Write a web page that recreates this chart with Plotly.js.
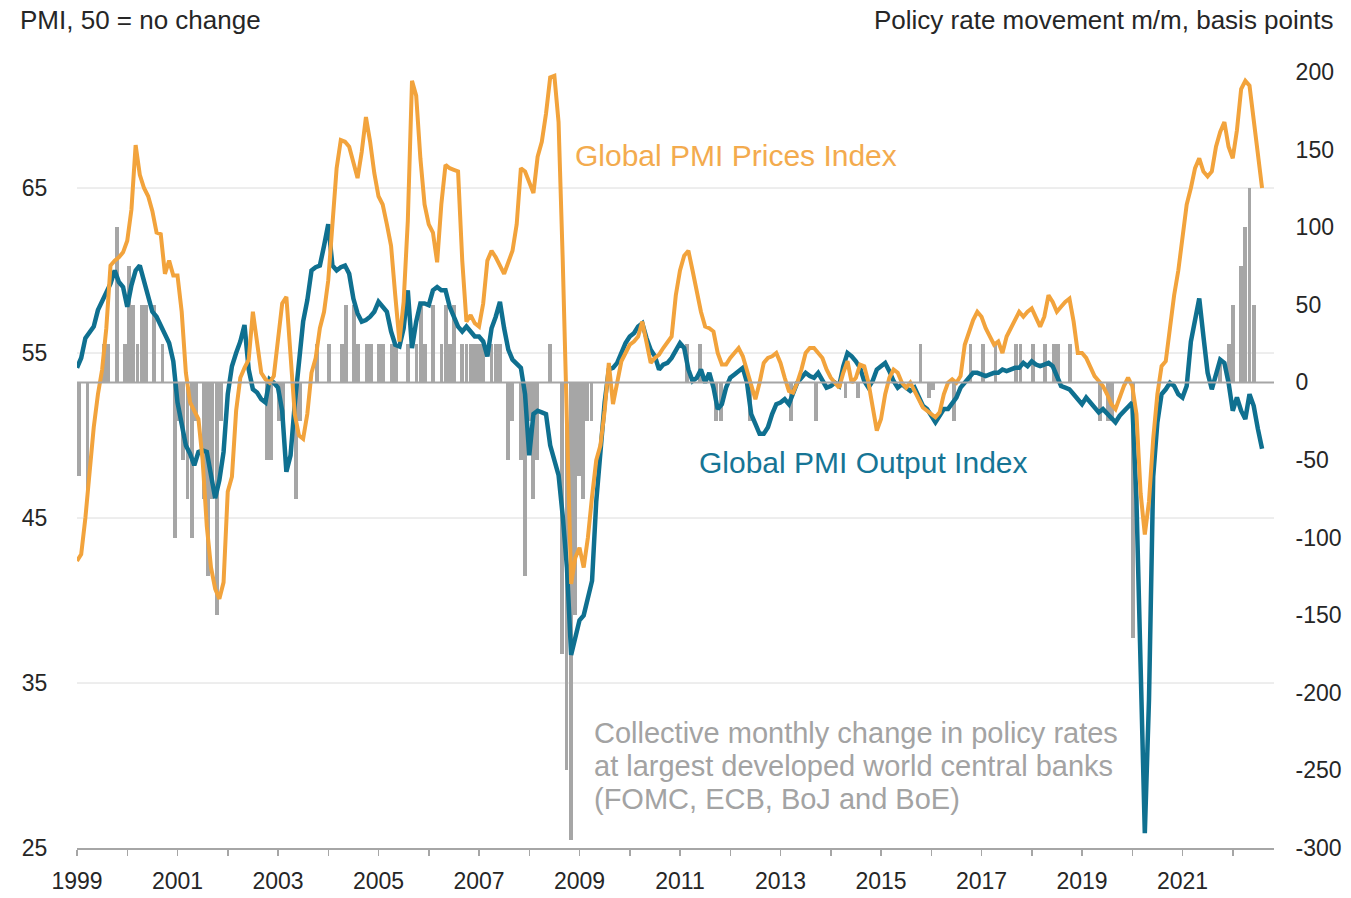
<!DOCTYPE html>
<html>
<head>
<meta charset="utf-8">
<script src="https://cdn.plot.ly/plotly-3.0.1.min.js"></script>
<style>
html,body{margin:0;padding:0;background:#fff;}
#chart{width:1351px;height:898px;}
</style>
</head>
<body>
<div id="chart"></div>
<script>
// Monthly series, starting January 1999
const startYear = 1999;

// Global PMI Prices Index (left axis)
const pricesIndex = [
  42.4, 42.8, 45.0, 48.0, 50.5, 52.5, 54.0, 56.5, 60.3, 60.6, 60.8, 61.1,   // 1999
  61.8, 63.7, 67.6, 65.8, 65.0, 64.5, 63.6, 62.3, 62.2, 59.8, 60.6, 59.7,   // 2000
  59.7, 57.5, 53.8, 52.0, 51.5, 51.0, 48.5, 44.5, 42.0, 40.7, 40.1, 41.1,   // 2001
  46.6, 47.5, 51.5, 53.5, 54.1, 54.6, 57.5, 55.5, 53.8, 53.4, 53.2, 53.6,   // 2002
  56.0, 58.0, 58.4, 54.4, 51.3, 50.0, 49.8, 51.3, 53.8, 54.7, 56.5, 57.5,   // 2003
  59.4, 62.8, 66.2, 67.9, 67.8, 67.5, 66.5, 65.6, 67.2, 69.3, 67.8, 65.9,   // 2004
  64.5, 64.0, 62.8, 61.5, 58.5, 55.7, 58.1, 63.0, 71.5, 70.6, 66.8, 64.0,   // 2005
  62.8, 62.3, 60.5, 64.0, 66.4, 66.2, 66.1, 66.0, 60.6, 56.9, 57.3, 56.8,   // 2006
  56.6, 58.0, 60.6, 61.2, 60.8, 60.3, 59.8, 60.5, 61.2, 62.8, 66.2, 66.0,   // 2007
  65.3, 64.7, 66.9, 67.8, 69.5, 71.7, 71.8, 69.0, 60.6, 51.3, 41.0, 42.6,   // 2008
  43.2, 42.0, 43.8, 46.3, 48.5, 49.4, 51.5, 54.4, 51.9, 53.2, 54.5, 55.0,   // 2009
  55.5, 55.7, 56.0, 56.9, 55.7, 54.4, 54.7, 54.9, 55.3, 55.7, 56.0, 58.5,   // 2010
  60.0, 60.9, 61.2, 60.0, 58.8, 57.5, 56.6, 56.5, 56.3, 55.0, 54.3, 54.3,   // 2011
  54.7, 55.0, 55.3, 54.8, 54.0, 53.0, 52.2, 53.2, 54.4, 54.7, 54.8, 55.0,   // 2012
  54.4, 53.5, 52.7, 52.6, 53.2, 54.0, 55.0, 55.3, 55.3, 55.0, 54.7, 54.0,   // 2013
  53.5, 53.2, 52.9, 53.8, 54.5, 53.2, 53.5, 54.3, 54.2, 53.2, 51.8, 50.3,   // 2014
  51.0, 52.5, 53.5, 54.0, 53.8, 53.2, 52.9, 53.2, 52.7, 52.2, 51.7, 51.5,   // 2015
  51.3, 51.1, 51.4, 52.5, 53.2, 53.4, 53.2, 53.6, 55.5, 56.3, 57.0, 57.5,   // 2016
  57.2, 56.5, 56.0, 55.5, 55.7, 55.0, 56.0, 56.5, 56.9, 57.5, 57.2, 57.5,   // 2017
  57.7, 57.2, 56.6, 57.2, 58.5, 58.1, 57.5, 57.8, 58.1, 58.3, 56.9, 55.0,   // 2018
  55.0, 54.7, 54.1, 53.6, 53.3, 53.0, 52.5, 51.9, 51.6, 52.3, 53.0, 53.5,   // 2019
  53.0, 51.3, 46.5, 44.0, 46.0, 49.8, 52.5, 54.2, 54.5, 56.5, 58.5, 60.0,   // 2020
  61.8, 64.0, 65.0, 66.2, 66.8, 66.0, 65.7, 66.0, 67.5, 68.4, 69.0, 67.5,   // 2021
  66.8, 68.5, 71.0, 71.5, 71.2, 69.0, 67.3, 65.0                            // 2022
];

// Global PMI Output Index (left axis)
const outputIndex = [
  54.1, 54.7, 55.9, 56.2, 56.6, 57.6, 58.1, 58.6, 59.2, 60.0, 59.3, 59.0,   // 1999
  57.8, 59.1, 60.0, 60.3, 59.4, 58.5, 57.5, 57.2, 56.7, 56.2, 55.6, 54.5,   // 2000
  52.0, 50.7, 49.4, 48.9, 48.2, 49.0, 49.1, 49.0, 47.5, 46.2, 47.3, 49.0,   // 2001
  52.5, 54.2, 55.0, 55.7, 56.7, 54.0, 52.8, 52.6, 52.2, 52.0, 53.4, 53.2,   // 2002
  52.9, 51.5, 47.8, 48.8, 51.9, 54.4, 56.9, 58.2, 60.0, 60.2, 60.3, 61.5,   // 2003
  62.8, 60.3, 60.0, 60.2, 60.3, 59.8, 58.3, 57.4, 56.9, 57.0, 57.2, 57.5,   // 2004
  58.1, 57.8, 57.5, 56.3, 55.5, 55.4, 56.5, 58.8, 55.3, 56.9, 58.0, 58.0,   // 2005
  57.9, 58.8, 59.0, 58.8, 58.8, 57.8, 57.2, 56.6, 56.3, 56.6, 56.3, 56.0,   // 2006
  56.0, 55.7, 54.8, 56.5, 57.2, 58.1, 56.5, 55.2, 54.6, 54.3, 54.1, 52.5,   // 2007
  48.8, 51.3, 51.5, 51.4, 51.3, 49.4, 48.5, 47.6, 45.1, 42.0, 36.7, 37.8,   // 2008
  38.8, 39.1, 40.1, 41.2, 46.0, 49.4, 52.0, 54.0, 54.1, 54.4, 55.0, 55.6,   // 2009
  56.0, 56.2, 56.6, 56.8, 55.9, 55.2, 54.8, 54.0, 54.3, 54.4, 54.7, 55.2,   // 2010
  55.6, 55.3, 54.0, 53.3, 53.5, 54.0, 53.2, 53.8, 52.9, 51.6, 51.9, 52.9,   // 2011
  53.5, 53.7, 53.9, 54.1, 53.2, 51.3, 50.7, 50.1, 50.1, 50.5, 51.3, 51.9,   // 2012
  52.0, 52.2, 51.9, 52.6, 53.2, 53.5, 53.8, 53.6, 53.5, 53.8, 53.3, 52.9,   // 2013
  53.0, 53.2, 53.0, 54.2, 55.0, 54.8, 54.5, 54.1, 53.3, 52.9, 53.3, 54.0,   // 2014
  54.2, 54.4, 53.9, 53.3, 52.9, 53.1, 52.9, 52.7, 52.9, 52.3, 51.8, 51.6,   // 2015
  51.2, 50.8, 51.2, 51.6, 51.6, 51.9, 52.3, 52.9, 53.2, 53.5, 53.8, 53.8,   // 2016
  53.7, 53.6, 53.7, 53.8, 53.8, 54.0, 53.9, 54.0, 54.1, 54.1, 54.4, 54.2,   // 2017
  54.5, 54.3, 54.2, 54.3, 54.4, 54.2, 53.6, 53.0, 52.9, 52.8, 52.5, 52.2,   // 2018
  51.9, 52.3, 52.0, 51.6, 51.4, 51.6, 51.3, 51.1, 50.8, 51.2, 51.5, 51.7,   // 2019
  52.0, 46.1, 37.0, 25.9, 34.0, 47.5, 50.8, 52.5, 52.8, 53.2, 53.0, 52.5,   // 2020
  52.3, 53.0, 55.7, 57.2, 58.3, 56.0, 53.8, 52.8, 53.8, 54.6, 54.4, 53.2,   // 2021
  51.5, 52.3, 51.5, 51.0, 52.5, 51.8, 50.4, 49.2                            // 2022
];

// Collective monthly change in policy rates (right axis, basis points); months not listed = 0
const policyMonths = [
  '1999-01','1999-02','1999-04','1999-08','1999-09','1999-11',
  '2000-01','2000-02','2000-03','2000-04','2000-05','2000-06','2000-08','2000-10',
  '2001-01','2001-02','2001-03','2001-04','2001-05','2001-06','2001-08','2001-09','2001-10','2001-11','2001-12',
  '2002-11','2002-12',
  '2003-02','2003-03','2003-06','2003-07','2003-11',
  '2004-02','2004-05','2004-06','2004-08','2004-09','2004-11','2004-12',
  '2005-02','2005-03','2005-05','2005-06','2005-09','2005-11','2005-12',
  '2006-01','2006-03','2006-05','2006-06','2006-07','2006-08','2006-10','2006-11','2006-12',
  '2007-01','2007-02','2007-03','2007-05','2007-06','2007-07','2007-09','2007-10','2007-12',
  '2008-01','2008-02','2008-03','2008-04','2008-07','2008-10','2008-11','2008-12',
  '2009-01','2009-02','2009-03','2009-04','2009-05',
  '2011-04','2011-07','2011-11','2011-12',
  '2012-07',
  '2013-05','2013-11',
  '2014-06','2014-09',
  '2015-12',
  '2016-02','2016-03','2016-08','2016-12',
  '2017-03','2017-06','2017-11','2017-12',
  '2018-03','2018-06','2018-08','2018-09','2018-12',
  '2019-07','2019-09','2019-10',
  '2020-03',
  '2021-12',
  '2022-02','2022-03','2022-05','2022-06','2022-07','2022-08'
];
const policyChanges = [
  -25, -60, -75, 25, 25, 100,
  25, 75, 50, 25, 50, 50, 50, 25,
  -100, -25, -50, -75, -100, -25, -75, -125, -75, -150, -25,
  -50, -50,
  -25, -25, -75, -25, 25,
  25, 25, 50, 50, 25, 25, 25,
  25, 25, 25, 25, 25, 25, 50,
  25, 50, 25, 50, 25, 50, 25, 25, 25,
  25, 25, 25, 25, 25, 25, -50, -25, -50,
  -125, -25, -75, -50, 25, -175, -250, -295,
  -150, -60, -75, -25, -25,
  25, 25, -25, -25,
  -25,
  -25, -25,
  -10, -10,
  25,
  -10, -5, -25, 25,
  25, 25, 25, 25,
  25, 25, 25, 25, 25,
  -25, -25, -25,
  -165,
  15,
  25, 50, 75, 100, 125, 50
];

const pmiTicks = [25, 35, 45, 55, 65];
const bpTicks = [-300, -250, -200, -150, -100, -50, 0, 50, 100, 150, 200];
const bpTickLabels = ['-300', '-250', '-200', '-150', '-100', '-50', '0', '50', '100', '150', '200'];
const axisYears = [1999,2000,2001,2002,2003,2004,2005,2006,2007,2008,2009,2010,
                   2011,2012,2013,2014,2015,2016,2017,2018,2019,2020,2021,2022];
const labelledYears = [1999,2001,2003,2005,2007,2009,2011,2013,2015,2017,2019,2021];

// ---- build ----
const monthIndex = s => { const [y, m] = s.split('-').map(Number); return (y - startYear) * 12 + (m - 1); };
const lineX = pricesIndex.map((_, i) => i);
const barX = policyMonths.map(monthIndex);
const tickVals = axisYears.map(y => (y - startYear) * 12);
const tickText = axisYears.map(y => labelledYears.includes(y) ? String(y) : '');

const FONT = 'Arial, "Liberation Sans", sans-serif';
const ORANGE = '#F2A33C';
const TEAL = '#0F7090';
const GREY = '#A6A6A6';

// plot area in pixels (figure 1351 x 898)
const L = 77, R = 1274, T = 72, B = 848, W = 1351, H = 898;
const px = x => (x - L) / (R - L);
const py = y => (B - y) / (B - T);

const traces = [
  { type: 'bar', x: barX, y: policyChanges, xaxis: 'x', yaxis: 'y',
    marker: { color: GREY, line: { width: 0 } }, width: 0.94, hoverinfo: 'skip' },
  { type: 'scatter', mode: 'lines', x: lineX, y: outputIndex, xaxis: 'x2', yaxis: 'y2',
    line: { color: TEAL, width: 4.5 }, hoverinfo: 'skip' },
  { type: 'scatter', mode: 'lines', x: lineX, y: pricesIndex, xaxis: 'x2', yaxis: 'y2',
    line: { color: ORANGE, width: 4 }, hoverinfo: 'skip' }
];

const shapes = [35, 45, 55, 65].map(v => ({
  type: 'line', xref: 'paper', yref: 'y2', x0: 0, x1: 1, y0: v, y1: v,
  line: { color: '#DCDCDC', width: 1 }, layer: 'below'
}));
shapes.push({ type: 'line', xref: 'paper', yref: 'y', x0: 0, x1: 1, y0: 0, y1: 0,
  line: { color: GREY, width: 2 }, layer: 'above' });

const annFont = (c, s) => ({ family: FONT, size: s, color: c });
const annotations = [
  { xref: 'paper', yref: 'paper', x: px(18), y: py(20), xanchor: 'left', yanchor: 'middle',
    text: 'PMI, 50 = no change', showarrow: false, font: annFont('#262626', 26) },
  { xref: 'paper', yref: 'paper', x: px(1336), y: py(20), xanchor: 'right', yanchor: 'middle',
    text: 'Policy rate movement m/m, basis points', showarrow: false, font: annFont('#262626', 26) },
  { xref: 'paper', yref: 'paper', x: px(573), y: py(156), xanchor: 'left', yanchor: 'middle',
    text: 'Global PMI Prices Index', showarrow: false, font: annFont('#F3AB4E', 30) },
  { xref: 'paper', yref: 'paper', x: px(697), y: py(462), xanchor: 'left', yanchor: 'middle',
    text: 'Global PMI Output Index', showarrow: false, font: annFont('#167595', 30) },
  { xref: 'paper', yref: 'paper', x: px(592), y: py(733), xanchor: 'left', yanchor: 'middle',
    text: 'Collective monthly change in policy rates', showarrow: false, font: annFont('#A3A3A3', 29) },
  { xref: 'paper', yref: 'paper', x: px(592), y: py(766), xanchor: 'left', yanchor: 'middle',
    text: 'at largest developed world central banks', showarrow: false, font: annFont('#A3A3A3', 29) },
  { xref: 'paper', yref: 'paper', x: px(592), y: py(799), xanchor: 'left', yanchor: 'middle',
    text: '(FOMC, ECB, BoJ and BoE)', showarrow: false, font: annFont('#A3A3A3', 29) }
];

const tickFont = { family: FONT, size: 23, color: '#262626' };

const layout = {
  width: W, height: H,
  margin: { l: L, r: W - R, t: T, b: H - B, pad: 0, autoexpand: false },
  paper_bgcolor: '#ffffff', plot_bgcolor: 'rgba(0,0,0,0)',
  showlegend: false, hovermode: false, bargap: 0,
  font: { family: FONT },
  // bars: own month scale
  xaxis: { range: [(L - 75) / 4.165, (R - 75) / 4.165], visible: false, fixedrange: true },
  // lines: month scale with year ticks
  xaxis2: { overlaying: 'x', anchor: 'y2', side: 'bottom',
    range: [0, (R - L) / 4.1875], tickmode: 'array', tickvals: tickVals, ticktext: tickText,
    ticks: 'outside', ticklen: 6, tickwidth: 1.5, tickcolor: GREY, ticklabelstandoff: 6,
    showline: true, linecolor: GREY, linewidth: 1.5, showgrid: false, zeroline: false,
    tickfont: tickFont, fixedrange: true },
  // right axis: basis points
  yaxis: { side: 'right', range: [-300, 200], tickmode: 'array', tickvals: bpTicks, ticktext: bpTickLabels,
    ticks: 'outside', ticklen: 16, tickcolor: 'rgba(0,0,0,0)', showgrid: false, zeroline: false,
    showline: false, tickfont: tickFont, fixedrange: true },
  // left axis: PMI
  yaxis2: { overlaying: 'y', side: 'left', anchor: 'x2', range: [25, 25 + (B - T) / 16.5],
    tickmode: 'array', tickvals: pmiTicks,
    ticks: 'outside', ticklen: 24, tickcolor: 'rgba(0,0,0,0)', showgrid: false, zeroline: false,
    showline: false, tickfont: tickFont, fixedrange: true },
  shapes: shapes,
  annotations: annotations
};

Plotly.newPlot('chart', traces, layout, { displayModeBar: false, staticPlot: true });
</script>
</body>
</html>
